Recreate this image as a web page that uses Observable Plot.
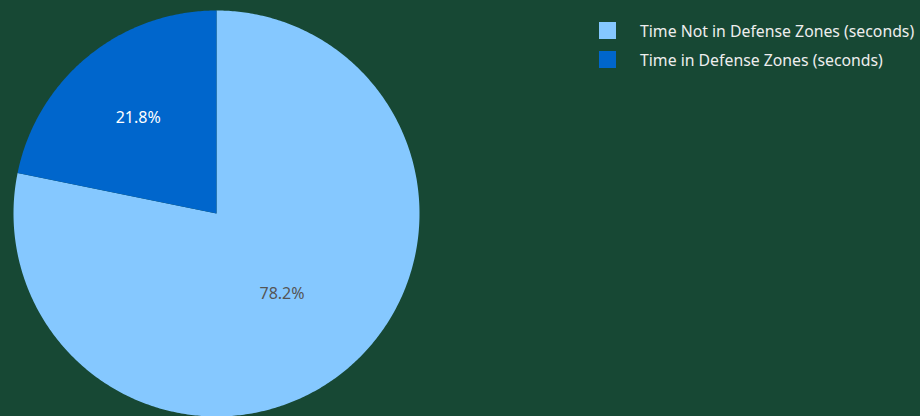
<!DOCTYPE html>
<html>
<head>
<meta charset="utf-8">
<script src="https://cdn.jsdelivr.net/npm/d3@7"></script>
<script src="https://cdn.jsdelivr.net/npm/@observablehq/plot@0.6"></script>
<style>
  html, body { margin: 0; padding: 0; background: #174834; }
  #wrap { position: relative; width: 920px; height: 416px; overflow: hidden; }
  #legend { position: absolute; left: 599px; top: 16px; font-family: "Noto Sans", sans-serif; font-size: 15.8px; color: #eeeeee; }
  .item { display: flex; align-items: center; height: 29px; }
  .sw { width: 17px; height: 17px; margin-right: 24px; }
</style>
</head>
<body>
<div id="wrap"><div id="chart"></div><div id="legend"></div></div>
<script>
const categories = ["Time Not in Defense Zones (seconds)", "Time in Defense Zones (seconds)"];
const shares = [78.2, 21.8];
const colors = ["#85c8ff", "#0066cc"];
const labelColors = ["#555555", "#ffffff"];

const total = d3.sum(shares);
let start = 0;
const wedges = [];
const labels = [];
shares.forEach((v, i) => {
  const a0 = start, a1 = start + (v / total) * 2 * Math.PI;
  start = a1;
  wedges.push({cat: categories[i], x: 0, y: 0});
  const n = Math.max(8, Math.ceil((a1 - a0) / 0.01));
  for (let k = 0; k <= n; k++) {
    const a = a0 + (a1 - a0) * k / n;
    wedges.push({cat: categories[i], x: Math.sin(a), y: Math.cos(a)});
  }
  const m = (a0 + a1) / 2;
  const rr = i === 0 ? 0.51 : 0.61;
  labels.push({text: v.toFixed(1) + "%", x: rr * Math.sin(m), y: rr * Math.cos(m), c: labelColors[i]});
});

const chart = Plot.plot({
  width: 920, height: 416,
  marginLeft: 13, marginRight: 501, marginTop: 10, marginBottom: 0,
  x: {domain: [-1, 1], axis: null},
  y: {domain: [-1, 1], axis: null},
  color: {domain: categories, range: colors},
  style: {background: "#174834", fontFamily: "'Noto Sans', sans-serif"},
  marks: [
    Plot.line(wedges, {x: "x", y: "y", z: "cat", fill: "cat", stroke: "none"}),
    Plot.text(labels, {x: "x", y: "y", text: "text", fill: d => d.c, fontSize: 16})
  ]
});
document.getElementById("chart").appendChild(chart);

const leg = document.getElementById("legend");
categories.forEach((c, i) => {
  const it = document.createElement("div");
  it.className = "item";
  const sw = document.createElement("div");
  sw.className = "sw";
  sw.style.background = colors[i];
  const t = document.createElement("span");
  t.textContent = c;
  it.appendChild(sw); it.appendChild(t);
  leg.appendChild(it);
});
</script>
</body>
</html>
